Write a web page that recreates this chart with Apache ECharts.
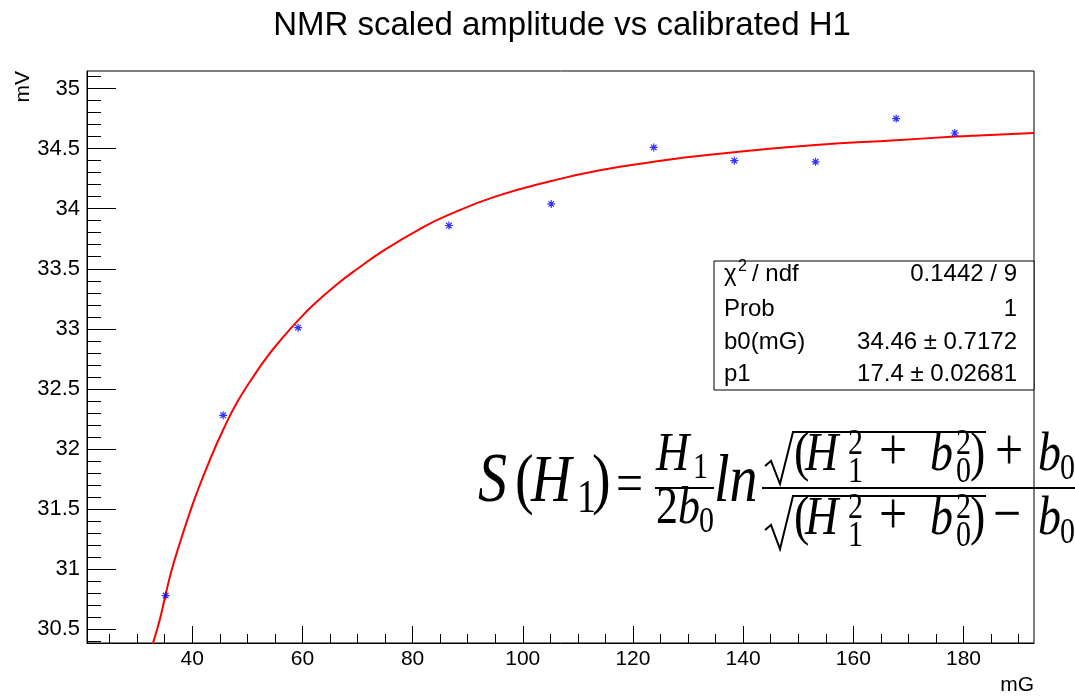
<!DOCTYPE html>
<html>
<head>
<meta charset="utf-8">
<script src="https://cdn.jsdelivr.net/npm/echarts@6/dist/echarts.min.js"></script>
<style>
html,body{margin:0;padding:0;background:#fff;}
#chart{width:1075px;height:696px;}
</style>
</head>
<body>
<div id="chart"></div>
<script>
// ---- data ----
const H1_MG = [35.18, 45.62, 59.22, 86.60, 105.17, 123.77, 138.40, 153.15, 167.78, 178.42];
const AMP_MV = [30.78, 32.28, 33.01, 33.86, 34.04, 34.51, 34.40, 34.39, 34.75, 34.63];
const FIT_X = [32.5, 34.0, 35.18, 36.26, 37.77, 39.27, 40.8, 43.21, 45.62, 48.05, 50.77, 53.49, 56.3, 59.22, 62.25, 66, 70, 75, 81.28, 86.6, 95, 105.17, 114, 123.77, 128.43, 138.4, 153.15, 167.78, 178.42, 182.83, 192.8];
const FIT_Y = [30.33, 30.56, 30.79, 30.99, 31.22, 31.43, 31.63, 31.91, 32.16, 32.38, 32.58, 32.76, 32.92, 33.07, 33.21, 33.36, 33.50, 33.66, 33.83, 33.95, 34.10, 34.23, 34.32, 34.39, 34.42, 34.47, 34.53, 34.57, 34.60, 34.61, 34.63];
const X_TICKS = [40, 60, 80, 100, 120, 140, 160, 180];
const X_MINOR = [25, 30, 35, 45, 50, 55, 65, 70, 75, 85, 90, 95, 105, 110, 115, 125, 130, 135, 145, 150, 155, 165, 170, 175, 185, 190];
const Y_TICKS = [30.5, 31, 31.5, 32, 32.5, 33, 33.5, 34, 34.5, 35];
const Y_MINOR = [30.4, 30.6, 30.7, 30.8, 30.9, 31.1, 31.2, 31.3, 31.4, 31.6, 31.7, 31.8, 31.9, 32.1, 32.2, 32.3, 32.4, 32.6, 32.7, 32.8, 32.9, 33.1, 33.2, 33.3, 33.4, 33.6, 33.7, 33.8, 33.9, 34.1, 34.2, 34.3, 34.4, 34.6, 34.7, 34.8, 34.9, 35.1];
const X_RANGE = [20.9, 192.8];
const Y_RANGE = [30.385, 35.146];
const TITLE = 'NMR scaled amplitude vs calibrated H1';
const STATS = [['χ', '0.1442 / 9'], ['Prob', '1'], ['b0(mG)', '34.46 ± 0.7172'], ['p1', '17.4 ± 0.02681']];

const SANS = '"Liberation Sans", Arial, sans-serif';
const SERIF = '"Liberation Serif", "Times New Roman", serif';

function pairs(a, b) { return a.map((v, i) => [v, b[i]]); }

// math text helper: glyph placed on a baseline, stretched vertically about it
const K = 1.2;
function mt(str, x, base, size, italic) {
  const off = 0.34 * size;
  return {
    type: 'text', x: x, y: base - off, originY: off, scaleY: K, silent: true,
    style: { text: str, font: (italic ? 'italic ' : '') + size + 'px ' + SERIF, fill: '#000', textAlign: 'left', verticalAlign: 'middle' }
  };
}
function ln(points, w) {
  return { type: 'polyline', silent: true, shape: { points: points }, style: { stroke: '#000', lineWidth: w || 2, fill: null } };
}

const F = 56, G = 46, s = 30;
const formula = [
  mt('S', 478, 506, F + 2, true),
  mt('(', 515, 506, F, false),
  mt('H', 531, 506, F, true),
  mt('1', 577, 516, 38, false),
  mt(')', 592, 506, F, false),
  mt('=', 616, 506, 48, false),
  // first fraction
  mt('H', 656, 474, G, true),
  mt('1', 693, 481, s, false),
  ln([[655, 488], [714, 488]], 2),
  mt('2', 656, 527, 44, false),
  mt('b', 678, 527, 44, true),
  mt('0', 699, 535, s, false),
  mt('ln', 714, 506, F, true),
  // big fraction bar
  ln([[762, 488], [1075, 488]], 2),
  // numerator
  ln([[765, 466], [771, 461], [780, 484], [793, 432], [986, 432]], 2),
  mt('(', 794, 474, G, false),
  mt('H', 805, 474, G, true),
  mt('2', 848, 457, s, false),
  mt('1', 848, 485, s, false),
  mt('+', 879, 474, 50, false),
  mt('b', 930, 474, G, true),
  mt('2', 956, 457, s, false),
  mt('0', 956, 485, s, false),
  mt(')', 970, 474, G, false),
  mt('+', 995, 474, 50, false),
  mt('b', 1038, 474, G, true),
  mt('0', 1060, 482, s, false),
  // denominator
  ln([[765, 530], [771, 525], [780, 549], [793, 496], [986, 496]], 2),
  mt('(', 794, 538, G, false),
  mt('H', 805, 538, G, true),
  mt('2', 848, 521, s, false),
  mt('1', 848, 549, s, false),
  mt('+', 879, 538, 50, false),
  mt('b', 930, 538, G, true),
  mt('2', 956, 521, s, false),
  mt('0', 956, 549, s, false),
  mt(')', 970, 538, G, false),
  mt('−', 993, 538, 50, false),
  mt('b', 1038, 538, G, true),
  mt('0', 1060, 546, s, false)
];

// stats box
const box = { left: 714, top: 261, right: 1034, bottom: 390 };
const rowY = [274, 309, 342, 374];
const statEls = [{
  type: 'rect', silent: true,
  shape: { x: box.left, y: box.top, width: box.right - box.left, height: box.bottom - box.top },
  style: { fill: '#fff', stroke: '#000', lineWidth: 1 }
}];
STATS.forEach((r, i) => {
  const cy = rowY[i];
  statEls.push({ type: 'text', x: 724, y: cy, silent: true, style: { text: r[0], font: '24px ' + SANS, fill: '#000', textAlign: 'left', verticalAlign: 'middle' } });
  statEls.push({ type: 'text', x: 1017, y: cy, silent: true, style: { text: r[1], font: '24px ' + SANS, fill: '#000', textAlign: 'right', verticalAlign: 'middle' } });
  if (i === 0) {
    statEls.push({ type: 'text', x: 738, y: cy - 7, silent: true, style: { text: '2', font: '16px ' + SANS, fill: '#000', textAlign: 'left', verticalAlign: 'middle' } });
    statEls.push({ type: 'text', x: 752, y: cy, silent: true, style: { text: '/ ndf', font: '24px ' + SANS, fill: '#000', textAlign: 'left', verticalAlign: 'middle' } });
  }
});

const chart = echarts.init(document.getElementById('chart'), null, { renderer: 'canvas' });
const axisText = { color: '#000', fontSize: 21, fontFamily: SANS };
chart.setOption({
  animation: false,
  backgroundColor: '#fff',
  grid: { left: 87, top: 71, right: 41, bottom: 53, show: true, borderColor: '#000', borderWidth: 1, containLabel: false },
  xAxis: [
    { type: 'value', min: X_RANGE[0], max: X_RANGE[1], position: 'bottom',
      axisLine: { show: true, onZero: false, lineStyle: { color: '#000', width: 1 } },
      axisTick: { show: true, inside: true, length: 17, customValues: X_TICKS, lineStyle: { color: '#000' } },
      axisLabel: Object.assign({ customValues: X_TICKS, margin: 6 }, axisText),
      splitLine: { show: false } },
    { type: 'value', min: X_RANGE[0], max: X_RANGE[1], position: 'bottom',
      axisLine: { show: false },
      axisTick: { show: true, inside: true, length: 9, customValues: X_MINOR, lineStyle: { color: '#000' } },
      axisLabel: { show: false }, splitLine: { show: false } }
  ],
  yAxis: [
    { type: 'value', min: Y_RANGE[0], max: Y_RANGE[1], position: 'left',
      axisLine: { show: true, onZero: false, lineStyle: { color: '#000', width: 1 } },
      axisTick: { show: true, inside: true, length: 29, customValues: Y_TICKS, lineStyle: { color: '#000' } },
      axisLabel: Object.assign({ customValues: Y_TICKS, margin: 7 }, axisText, { fontSize: 22 }),
      splitLine: { show: false } },
    { type: 'value', min: Y_RANGE[0], max: Y_RANGE[1], position: 'left',
      axisLine: { show: false },
      axisTick: { show: true, inside: true, length: 14, customValues: Y_MINOR, lineStyle: { color: '#000' } },
      axisLabel: { show: false }, splitLine: { show: false } }
  ],
  series: [
    { type: 'line', name: 'fit', data: pairs(FIT_X, FIT_Y), smooth: 0.5, showSymbol: false, clip: true,
      lineStyle: { color: '#ff0000', width: 2 }, z: 3 },
    { type: 'scatter', name: 'data', data: pairs(H1_MG, AMP_MV), symbol: 'path://M5,0L5,10M0,5L10,5M1.5,1.5L8.5,8.5M1.5,8.5L8.5,1.5', symbolSize: 8,
      itemStyle: { color: 'rgba(0,0,0,0)', borderColor: '#0000ff', borderWidth: 1.2 }, z: 4 }
  ],
  graphic: [
    { type: 'text', x: 562, y: 26, silent: true, style: { text: TITLE, font: '33px ' + SANS, fill: '#000', textAlign: 'center', verticalAlign: 'middle' } },
    { type: 'text', x: 23, y: 71, rotation: Math.PI / 2, silent: true, style: { text: 'mV', font: '21px ' + SANS, fill: '#000', textAlign: 'right', verticalAlign: 'middle' } },
    { type: 'text', x: 1034, y: 685, silent: true, style: { text: 'mG', font: '21px ' + SANS, fill: '#000', textAlign: 'right', verticalAlign: 'middle' } }
  ].concat(statEls).concat(formula)
});
</script>
</body>
</html>
